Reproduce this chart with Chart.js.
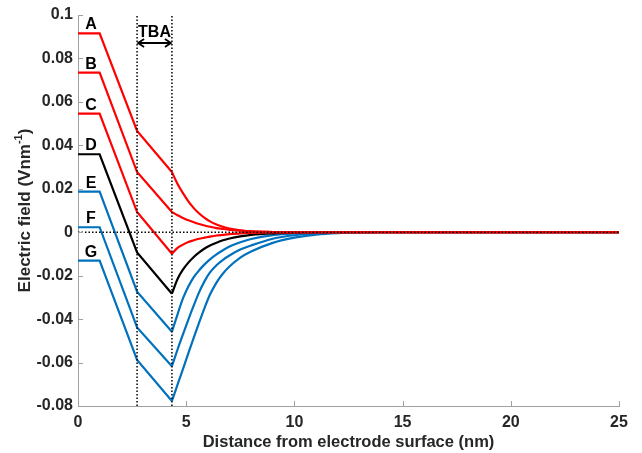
<!DOCTYPE html>
<html>
<head>
<meta charset="utf-8">
<script src="https://cdn.jsdelivr.net/npm/chart.js"></script>
<style>
  body { margin: 0; background: #fff; }
  #wrap { width: 642px; height: 453px; position: relative; }
</style>
</head>
<body>
<div id="wrap"><canvas id="chart"></canvas></div>
<script>
// distance from electrode surface (nm), shared by every curve
const distances = [0, 1.0, 2.73, 4.34, 4.6, 4.85, 5.1, 5.35, 5.6, 5.85, 6.1, 6.4, 6.7, 7.0, 7.5, 8.0, 9, 10, 11, 12, 13, 14, 25];

// electric field (V/nm)
const fieldA = [0.0915, 0.0915, 0.0466, 0.0277, 0.0222, 0.0180, 0.0142, 0.0111, 0.0086, 0.0066, 0.0050, 0.0036, 0.0025, 0.0017, 0.0009, 0.0004, 0.0001, 0, 0, 0, 0, 0, 0];
const fieldB = [0.0735, 0.0735, 0.0277, 0.0093, 0.0078, 0.0066, 0.0055, 0.0046, 0.0038, 0.0031, 0.0025, 0.0019, 0.0015, 0.0011, 0.0007, 0.0004, 0.0001, 0, 0, 0, 0, 0, 0];
const fieldC = [0.0546, 0.0546, 0.0093, -0.0099, -0.0072, -0.0057, -0.0045, -0.0037, -0.0030, -0.0025, -0.0020, -0.0015, -0.0012, -0.0009, -0.0005, -0.0003, -0.0001, 0, 0, 0, 0, 0, 0];
const fieldD = [0.0359, 0.0359, -0.0093, -0.0283, -0.0215, -0.0172, -0.0140, -0.0114, -0.0093, -0.0075, -0.0061, -0.0048, -0.0037, -0.0029, -0.0019, -0.0012, -0.0005, -0.0002, -0.0001, 0, 0, 0, 0];
const fieldE = [0.0187, 0.0187, -0.0274, -0.0458, -0.0378, -0.0305, -0.0250, -0.0207, -0.0175, -0.0148, -0.0125, -0.0102, -0.0083, -0.0066, -0.0046, -0.0031, -0.0013, -0.0005, -0.0002, -0.0001, 0, 0, 0];
const fieldF = [0.0023, 0.0023, -0.0438, -0.0617, -0.0540, -0.0470, -0.0402, -0.0337, -0.0276, -0.0225, -0.0185, -0.0152, -0.0127, -0.0107, -0.0080, -0.0061, -0.0030, -0.0014, -0.0006, -0.0002, -0.0001, 0, 0];
const fieldG = [-0.0131, -0.0131, -0.0588, -0.0777, -0.0702, -0.0630, -0.0557, -0.0485, -0.0415, -0.0348, -0.0287, -0.0232, -0.0190, -0.0158, -0.0117, -0.0089, -0.0049, -0.0025, -0.0011, -0.0004, -0.0001, 0, 0];

const curveNames = ['A', 'B', 'C', 'D', 'E', 'F', 'G'];
const curveFields = [fieldA, fieldB, fieldC, fieldD, fieldE, fieldF, fieldG];
const curveColors = ['#ff0000', '#ff0000', '#ff0000', '#000000', '#0072bd', '#0072bd', '#0072bd'];

// TBA layer boundaries (nm); index 3 in distances is where the diffuse tail starts
const tbaBounds = [2.73, 4.34];
const tailStart = 3;

const xTicks = [0, 5, 10, 15, 20, 25];
const yTicks = [-0.08, -0.06, -0.04, -0.02, 0, 0.02, 0.04, 0.06, 0.08, 0.1];

const FONT = '"Liberation Sans", Arial, sans-serif';
const TEXT = '#262626';
const AXIS = '#a0a0a0';
const letterX = 0.6;

const datasets = [];
curveNames.forEach((name, i) => {
  const pts = distances.map((d, j) => ({ x: d, y: curveFields[i][j] }));
  // straight part up to the TBA edge
  datasets.push({
    label: name,
    data: pts.slice(0, tailStart + 1),
    borderColor: curveColors[i],
    borderWidth: 2.2,
    pointRadius: 0,
    tension: 0,
    order: 1
  });
  // smooth decaying tail
  datasets.push({
    label: name + ' tail',
    data: pts.slice(tailStart),
    borderColor: curveColors[i],
    borderWidth: 2.2,
    pointRadius: 0,
    cubicInterpolationMode: 'monotone',
    order: 1
  });
});

// dotted guides: zero line and TBA boundaries
datasets.push({
  label: 'zero',
  data: [{ x: xTicks[0], y: 0 }, { x: xTicks[xTicks.length - 1], y: 0 }],
  borderColor: '#000', borderWidth: 1.5, borderDash: [1.5, 2], pointRadius: 0, order: -1
});
tbaBounds.forEach(b => {
  datasets.push({
    label: 'tba',
    data: [{ x: b, y: yTicks[0] }, { x: b, y: yTicks[yTicks.length - 1] }],
    borderColor: '#000', borderWidth: 1.5, borderDash: [1.5, 2], pointRadius: 0, order: -1
  });
});

const decor = {
  id: 'decor',
  afterDraw(chart) {
    const { ctx, scales: { x, y } } = chart;
    ctx.save();

    // inward tick marks, matlab style
    ctx.strokeStyle = AXIS;
    ctx.lineWidth = 1;
    ctx.beginPath();
    xTicks.forEach(v => {
      const px = Math.round(x.getPixelForValue(v)) + 0.5;
      ctx.moveTo(px, y.bottom);
      ctx.lineTo(px, y.bottom - 5);
    });
    yTicks.forEach(v => {
      const py = Math.round(y.getPixelForValue(v)) + 0.5;
      ctx.moveTo(x.left, py);
      ctx.lineTo(x.left + 5, py);
    });
    ctx.stroke();

    // curve letters
    ctx.fillStyle = '#000';
    ctx.font = 'bold 16px ' + FONT;
    ctx.textAlign = 'center';
    ctx.textBaseline = 'alphabetic';
    curveNames.forEach((n, i) => {
      ctx.fillText(n, x.getPixelForValue(letterX), y.getPixelForValue(curveFields[i][0]) - 4);
    });

    // TBA label with double arrow
    const x1 = x.getPixelForValue(tbaBounds[0]);
    const x2 = x.getPixelForValue(tbaBounds[1]);
    ctx.fillText('TBA', (x1 + x2) / 2, y.top + 21.5);
    const ay = y.top + 28;
    ctx.strokeStyle = '#000';
    ctx.lineWidth = 1.8;
    ctx.beginPath();
    ctx.moveTo(x1 + 1, ay); ctx.lineTo(x2 - 1, ay);
    ctx.moveTo(x1 + 7, ay - 4); ctx.lineTo(x1 + 1, ay); ctx.lineTo(x1 + 7, ay + 4);
    ctx.moveTo(x2 - 7, ay - 4); ctx.lineTo(x2 - 1, ay); ctx.lineTo(x2 - 7, ay + 4);
    ctx.stroke();

    // y axis title with superscript
    ctx.translate(25, (y.top + y.bottom) / 2);
    ctx.rotate(-Math.PI / 2);
    ctx.fillStyle = TEXT;
    ctx.textAlign = 'left';
    ctx.textBaseline = 'middle';
    const main = 'bold 17px ' + FONT;
    const sup = 'bold 11px ' + FONT;
    ctx.font = main;
    const w1 = ctx.measureText('Electric field (Vnm').width;
    const w3 = ctx.measureText(')').width;
    ctx.font = sup;
    const w2 = ctx.measureText('-1').width;
    const sx = -(w1 + w2 + w3) / 2;
    ctx.font = main;
    ctx.fillText('Electric field (Vnm', sx, 0);
    ctx.font = sup;
    ctx.fillText('-1', sx + w1, -6);
    ctx.font = main;
    ctx.fillText(')', sx + w1 + w2, 0);

    ctx.restore();
  }
};

new Chart(document.getElementById('chart'), {
  type: 'line',
  data: { datasets },
  options: {
    responsive: true,
    maintainAspectRatio: false,
    animation: false,
    events: [],
    layout: { padding: { top: 15, right: 23, left: 0, bottom: 0 } },
    plugins: { legend: { display: false }, tooltip: { enabled: false } },
    scales: {
      x: {
        type: 'linear',
        min: 0,
        max: 25,
        afterBuildTicks: axis => { axis.ticks = xTicks.map(v => ({ value: v })); },
        afterFit: axis => { axis.height = 47; },
        grid: { display: false, drawTicks: false },
        border: { display: true, color: AXIS, width: 1 },
        ticks: { color: TEXT, font: { family: FONT, size: 16, weight: 'bold' }, padding: 7, maxRotation: 0,
          callback: v => String(v) },
        title: { display: true, text: 'Distance from electrode surface (nm)', color: TEXT,
          font: { family: FONT, size: 16.5, weight: 'bold' }, padding: 1 }
      },
      y: {
        type: 'linear',
        min: -0.08,
        max: 0.1,
        afterBuildTicks: axis => { axis.ticks = yTicks.map(v => ({ value: v })); },
        afterFit: axis => { axis.width = 78; },
        grid: { display: false, drawTicks: false },
        border: { display: true, color: AXIS, width: 1 },
        ticks: { color: TEXT, font: { family: FONT, size: 16, weight: 'bold' }, padding: 5,
          callback: v => String(+v.toFixed(2)) }
      }
    }
  },
  plugins: [decor]
});
</script>
</body>
</html>
